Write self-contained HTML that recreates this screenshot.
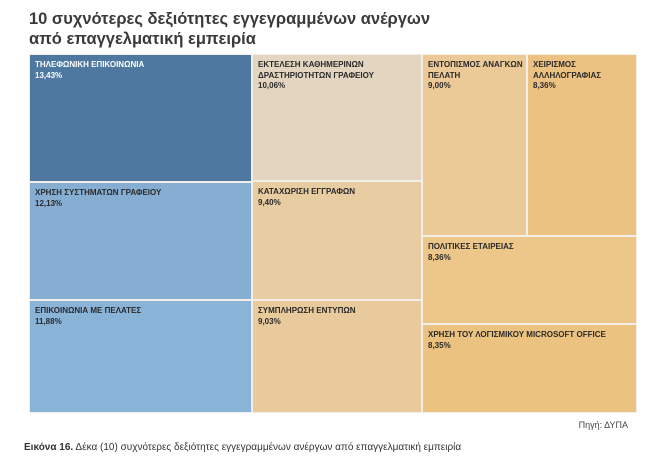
<!DOCTYPE html>
<html><head><meta charset="utf-8"><style>
body{margin:0;width:652px;height:463px;background:#fff;font-family:"Liberation Sans","DejaVu Sans",sans-serif;position:relative;overflow:hidden}
.t{position:absolute;left:29px;top:9px;font-size:16.5px;font-weight:bold;color:#3a3a3a;line-height:20px}
.r{position:absolute;box-sizing:border-box;border:1px solid #f3efe8;padding:5px 0 0 5px;font-size:8px;font-weight:bold;color:#2a2a2a;line-height:10.5px}
.src{position:absolute;right:24px;top:420px;font-size:9px;color:#444}
.cap{position:absolute;left:24px;top:442px;font-size:10px;color:#333}
</style></head><body>
<div class="t">10 συχνότερες δεξιότητες εγγεγραμμένων ανέργων<br>από επαγγελματική εμπειρία</div>
<div class="r" style="left:29px;top:54px;width:223px;height:128px;background:#4f78a0;color:#fff">ΤΗΛΕΦΩΝΙΚΗ ΕΠΙΚΟΙΝΩΝΙΑ<br>13,43%</div>
<div class="r" style="left:29px;top:182px;width:223px;height:118px;background:#86aed3">ΧΡΗΣΗ ΣΥΣΤΗΜΑΤΩΝ ΓΡΑΦΕΙΟΥ<br>12,13%</div>
<div class="r" style="left:29px;top:300px;width:223px;height:113px;background:#8ab3d8">ΕΠΙΚΟΙΝΩΝΙΑ ΜΕ ΠΕΛΑΤΕΣ<br>11,88%</div>
<div class="r" style="left:252px;top:54px;width:170px;height:127px;background:#e3d5c0">ΕΚΤΕΛΕΣΗ ΚΑΘΗΜΕΡΙΝΩΝ<br>ΔΡΑΣΤΗΡΙΟΤΗΤΩΝ ΓΡΑΦΕΙΟΥ<br>10,06%</div>
<div class="r" style="left:252px;top:181px;width:170px;height:119px;background:#e8cca2">ΚΑΤΑΧΩΡΙΣΗ ΕΓΓΡΑΦΩΝ<br>9,40%</div>
<div class="r" style="left:252px;top:300px;width:170px;height:113px;background:#e9ca9c">ΣΥΜΠΛΗΡΩΣΗ ΕΝΤΥΠΩΝ<br>9,03%</div>
<div class="r" style="left:422px;top:54px;width:105px;height:182px;background:#ebca98">ΕΝΤΟΠΙΣΜΟΣ ΑΝΑΓΚΩΝ<br>ΠΕΛΑΤΗ<br>9,00%</div>
<div class="r" style="left:527px;top:54px;width:110px;height:182px;background:#ecc283">ΧΕΙΡΙΣΜΟΣ<br>ΑΛΛΗΛΟΓΡΑΦΙΑΣ<br>8,36%</div>
<div class="r" style="left:422px;top:236px;width:215px;height:88px;background:#edc68a">ΠΟΛΙΤΙΚΕΣ ΕΤΑΙΡΕΙΑΣ<br>8,36%</div>
<div class="r" style="left:422px;top:324px;width:215px;height:89px;background:#ebc27f">ΧΡΗΣΗ ΤΟΥ ΛΟΓΙΣΜΙΚΟΥ MICROSOFT OFFICE<br>8,35%</div>
<div class="src">Πηγή: ΔΥΠΑ</div>
<div class="cap"><b>Εικόνα 16.</b> Δέκα (10) συχνότερες δεξιότητες εγγεγραμμένων ανέργων από επαγγελματική εμπειρία</div>
</body></html>
